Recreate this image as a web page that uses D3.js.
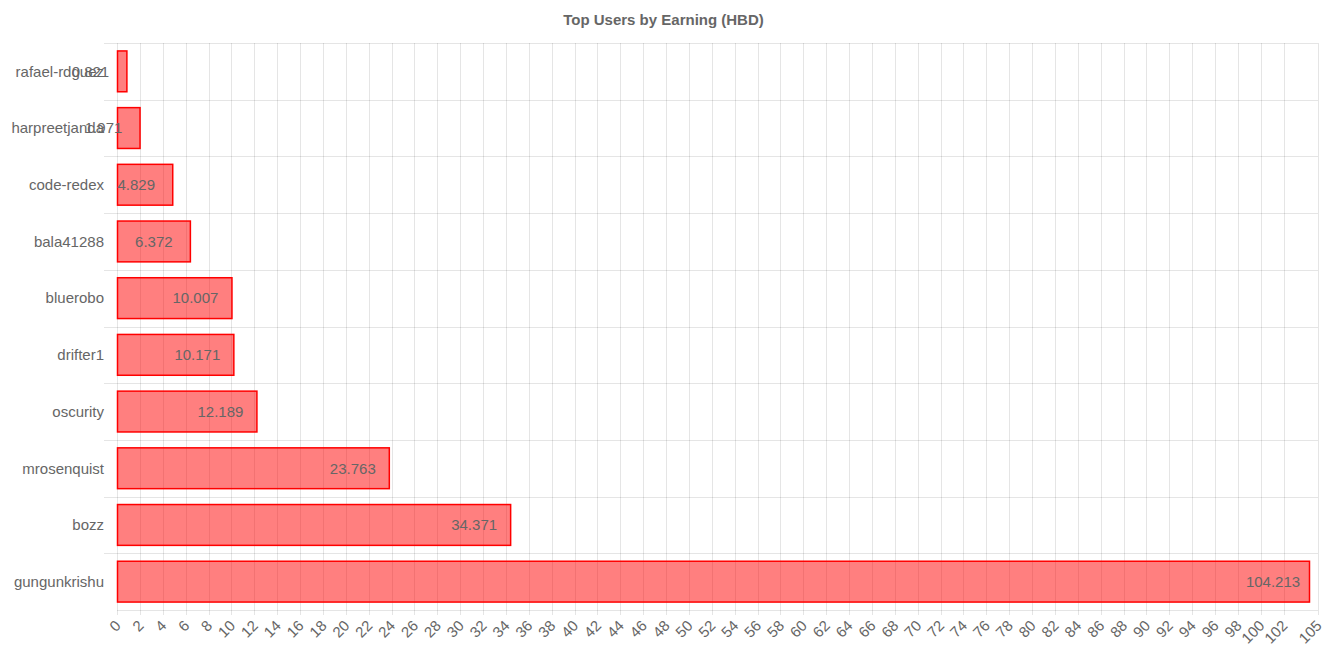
<!DOCTYPE html>
<html lang="en">
<head>
    <meta charset="UTF-8">
    <title>Top Users by Earning (HBD)</title>
    <script src="https://d3js.org/d3.v7.min.js"></script>
    <style>
        body {
            margin: 0;
            background-color: #ffffff;
            font-family: "Liberation Sans", Arial, sans-serif;
        }
        svg {
            display: block;
        }
    </style>
</head>
<body>
    <svg id="chart" width="1327" height="663"></svg>
    <script>
        const users = ['rafael-rdguez', 'harpreetjanda', 'code-redex', 'bala41288', 'bluerobo',
                       'drifter1', 'oscurity', 'mrosenquist', 'bozz', 'gungunkrishu'];
        const earnings = [0.821, 1.971, 4.829, 6.372, 10.007, 10.171, 12.189, 23.763, 34.371, 104.213];
        const xTicks = [0, 2, 4, 6, 8, 10, 12, 14, 16, 18, 20, 22, 24, 26, 28, 30, 32, 34, 36, 38, 40,
                        42, 44, 46, 48, 50, 52, 54, 56, 58, 60, 62, 64, 66, 68, 70, 72, 74, 76, 78, 80,
                        82, 84, 86, 88, 90, 92, 94, 96, 98, 100, 102, 105];
        const xMax = 105;

        const data = users.map((u, i) => ({ user: u, value: earnings[i] }));

        const svg = d3.select('#chart');
        const margin = { top: 43, right: 9, bottom: 53, left: 117 };
        const width = 1327 - margin.left - margin.right;
        const height = 663 - margin.top - margin.bottom;
        const gridColor = 'rgba(0,0,0,0.1)';
        const textColor = '#666';

        const chart = svg.append('g')
            .attr('transform', `translate(${margin.left},${margin.top})`);

        const x = d3.scaleLinear().domain([0, xMax]).range([0, width]);
        const y = d3.scaleBand().domain(users).range([0, height]);

        // title, centred on the whole canvas
        svg.append('text')
            .attr('x', 1327 / 2)
            .attr('y', 25)
            .style('text-anchor', 'middle')
            .style('font-size', '15px')
            .style('font-weight', 'bold')
            .style('fill', textColor)
            .text('Top Users by Earning (HBD)');

        // vertical grid lines
        chart.selectAll('.vgrid')
            .data(xTicks)
            .enter().append('line')
            .attr('class', 'vgrid')
            .attr('x1', d => Math.round(x(d)) + 0.5)
            .attr('x2', d => Math.round(x(d)) + 0.5)
            .attr('y1', 0)
            .attr('y2', height + 5)
            .style('stroke', gridColor);

        // horizontal grid lines between categories
        const bounds = users.map(u => y(u));
        chart.selectAll('.hgrid')
            .data(bounds)
            .enter().append('line')
            .attr('class', 'hgrid')
            .attr('x1', -13)
            .attr('x2', width)
            .attr('y1', d => Math.round(d) + 0.5)
            .attr('y2', d => Math.round(d) + 0.5)
            .style('stroke', gridColor);

        chart.append('line')
            .attr('x1', 0)
            .attr('x2', width)
            .attr('y1', height + 0.5)
            .attr('y2', height + 0.5)
            .style('stroke', gridColor);

        // bars
        const barH = y.bandwidth() * 0.72;
        chart.selectAll('.bar')
            .data(data)
            .enter().append('rect')
            .attr('class', 'bar')
            .attr('x', x(0) + 0.5)
            .attr('y', d => y(d.user) + (y.bandwidth() - barH) / 2)
            .attr('width', d => x(d.value) - x(0))
            .attr('height', barH)
            .style('fill', 'rgba(255,0,0,0.5)')
            .style('stroke', '#ff0000')
            .style('stroke-width', 1.5);

        // value labels
        chart.selectAll('.value')
            .data(data)
            .enter().append('text')
            .attr('class', 'value')
            .attr('x', d => x(d.value) - 36)
            .attr('y', d => y(d.user) + y.bandwidth() / 2)
            .attr('dy', '0.35em')
            .style('text-anchor', 'middle')
            .style('font-size', '15px')
            .style('fill', textColor)
            .text(d => d.value);

        // y labels
        chart.selectAll('.ylabel')
            .data(users)
            .enter().append('text')
            .attr('class', 'ylabel')
            .attr('x', -13)
            .attr('y', d => y(d) + y.bandwidth() / 2)
            .attr('dy', '0.35em')
            .style('text-anchor', 'end')
            .style('font-size', '15px')
            .style('fill', textColor)
            .text(d => d);

        // x tick labels
        chart.selectAll('.xlabel')
            .data(xTicks)
            .enter().append('text')
            .attr('class', 'xlabel')
            .attr('transform', d => `translate(${x(d) + 1},${height + 13}) rotate(-45)`)
            .style('text-anchor', 'end')
            .attr('dy', '0.35em')
            .style('font-size', '15px')
            .style('fill', textColor)
            .text(d => d);
    </script>
</body>
</html>
